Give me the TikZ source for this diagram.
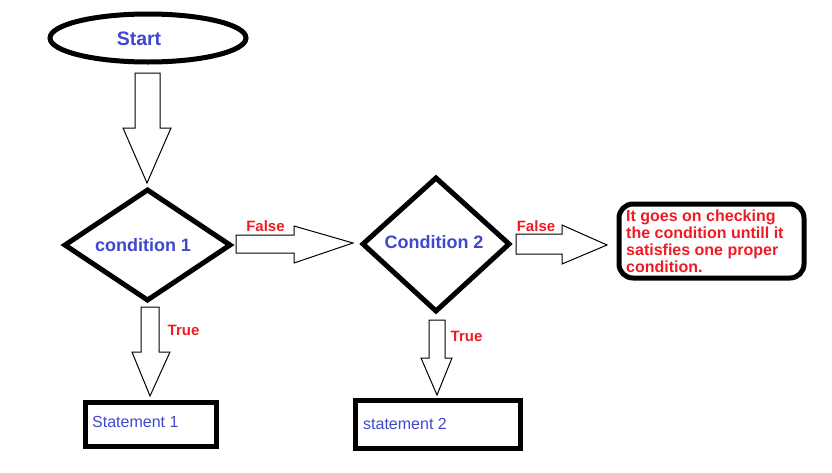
\documentclass[tikz,border=0pt]{standalone}
\usepackage{fontspec}
\setmainfont{Liberation Sans}
\usetikzlibrary{shapes.geometric}
\definecolor{pblue}{RGB}{63,72,204}
\definecolor{pred}{RGB}{237,28,36}
\tikzset{
  thick outline/.style={draw=black, line width=5pt},
  blockarrow/.style={draw=black, line width=1pt, fill=white, line join=miter},
  bluelabel/.style={text=pblue, font=\bfseries\fontsize{18}{20}\selectfont},
  stmtlabel/.style={text=pblue, font=\fontsize{16}{18}\selectfont, anchor=west},
  redlabel/.style={text=pred, font=\bfseries\fontsize{15}{17}\selectfont}
}
\begin{document}
\begin{tikzpicture}[x=1pt,y=-1pt]
\useasboundingbox (0,0) rectangle (832,472);
% Start ellipse
\draw[thick outline] (148,38) ellipse [x radius=98, y radius=24];
\node[bluelabel, font=\bfseries\fontsize{19.5}{21}\selectfont] (start) at (139,39) {Start};
% big arrow from start to condition 1
\draw[blockarrow] (135,73) -- (160,73) -- (160,128) -- (171,128) -- (147,183) -- (123,128) -- (135,128) -- cycle;
% condition 1 diamond
\draw[thick outline] (65,245) -- (147.5,190) -- (230,245) -- (147.5,300) -- cycle;
\node[bluelabel] (c1) at (143,245) {condition 1};
% false arrow 1
\draw[blockarrow] (236,235) -- (294,235) -- (294,226) -- (353,243) -- (294,263) -- (294,253) -- (236,253) -- cycle;
\node[redlabel] (f1) at (265.5,226) {False};
% condition 2 diamond
\draw[thick outline] (363,244) -- (436,178) -- (509,244) -- (436,311) -- cycle;
\node[bluelabel] (c2) at (434,242) {Condition 2};
% false arrow 2
\draw[blockarrow] (516,234) -- (562,234) -- (562,225) -- (607,245) -- (562,264) -- (562,254) -- (516,254) -- cycle;
\node[redlabel] (f2) at (536,226) {False};
% rounded info box
\draw[thick outline, rounded corners=14pt] (619,204) rectangle (804,278);
\node[text=pred, font=\bfseries\fontsize{16}{17}\selectfont, align=left, anchor=north west, inner sep=0pt] (info) at (626,209.5)
  {It goes on checking\\the condition untill it\\satisfies one proper\\condition.};
% true arrow 1
\draw[blockarrow] (141,307) -- (159,307) -- (159,352) -- (170,352) -- (150,396) -- (132,352) -- (141,352) -- cycle;
\node[redlabel] (t1) at (183.5,330) {True};
% statement 1 box
\draw[thick outline] (85,402) rectangle (216,446);
\node[stmtlabel, inner sep=0pt] (s1) at (92,422) {Statement 1};
% true arrow 2
\draw[blockarrow] (429,320) -- (445,320) -- (445,358) -- (452,358) -- (437,395) -- (421,358) -- (429,358) -- cycle;
\node[redlabel] (t2) at (466.5,336) {True};
% statement 2 box
\draw[thick outline] (355,400) rectangle (520,448);
\node[stmtlabel, inner sep=0pt] (s2) at (363,424) {statement 2};
\end{tikzpicture}
\end{document}
